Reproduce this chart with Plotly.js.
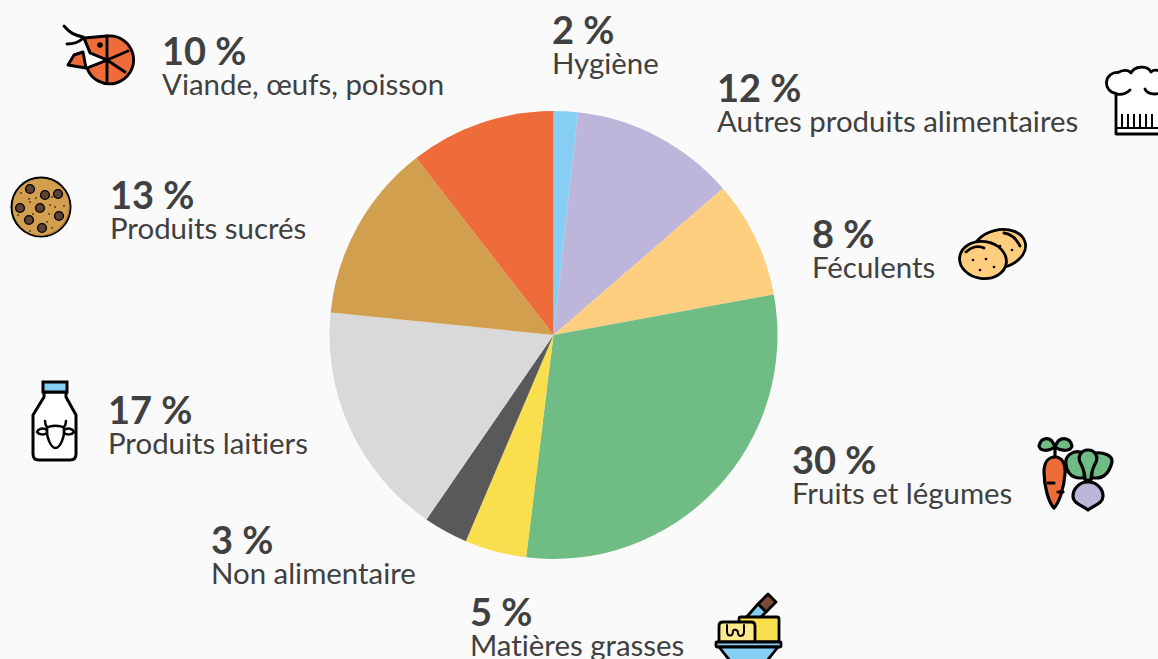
<!DOCTYPE html>
<html lang="fr">
<head>
<meta charset="utf-8">
<script src="https://cdn.plot.ly/plotly-3.0.1.min.js"></script>
<style>html,body{margin:0;padding:0;background:#fafafa;overflow:hidden}#chart{width:1158px;height:659px}
.annotation-text{font-variant-ligatures:none;font-feature-settings:"liga" 0}</style>
</head>
<body>
<div id="chart"></div>
<script>
const categories = ["Hygiène","Autres produits alimentaires","Féculents","Fruits et légumes","Matières grasses","Non alimentaire","Produits laitiers","Produits sucrés","Viande, œufs, poisson"];
const shareLabels = [2,12,8,30,5,3,17,13,10];
const shares = [1.75,11.9,8.45,29.85,4.45,3.2,17,12.9,10.5];
const sliceColors = ["#87CEF5","#BDB5DA","#FFCE7E","#6FBD85","#F9DF4E","#595959","#D9D9D9","#D19F4E","#EE6B3A"];
const labelLeft = [552,717,812,792,470,211,108,110,162];
const labelBaseline = [44,102,248,474,626,554,424,209,65];

const W = 1158, H = 659;
const INK = "#404040";

function icon(x,y,w,h,body){
  const svg = `<svg xmlns="http://www.w3.org/2000/svg" width="${w*2}" height="${h*2}" viewBox="${x} ${y} ${w} ${h}">${body}</svg>`;
  return {source:"data:image/svg+xml;charset=utf-8,"+encodeURIComponent(svg),xref:"paper",yref:"paper",
    x:x/W,y:1-y/H,sizex:w/W,sizey:h/H,xanchor:"left",yanchor:"top",sizing:"stretch",layer:"above"};
}
const S = 'stroke="#000" stroke-linecap="round" stroke-linejoin="round"';

const shrimp = icon(60,22,76,66,`
 <g ${S} stroke-width="2.9" fill="none">
 <path d="M84 38L107 36A24 24 0 1 1 87 68L107 60L90 53Z" fill="#EE6B3A"/>
 <path d="M84 38L90 53L107 60L87 68" fill="#fff"/>
 <path d="M68 65L74 55L83 52L86 68Z" fill="#EE6B3A"/>
 <path d="M64 26C70 33 74 35 83 37M67 44C73 44 78 43 82 39"/>
 <path d="M107 36V83M107 60L128 51M107 60L125 72"/>
 </g><circle cx="100" cy="45" r="2.8" fill="#000"/>`);

const chips = [[30,189],[45,195],[58,194],[20,208],[40,208],[59,216],[29,220],[42,228]];
const crumbs = [[30,202],[36,198],[29,199],[50,205],[55,207],[49,214],[33,214],[47,222],[21,193],[64,206],[52,197],[30,231],[18,215],[52,228]];
const cookie = icon(8,174,66,66,`
 <circle cx="41" cy="207" r="29.5" fill="#D19F4E" stroke="#000" stroke-width="2"/>
 <path d="M67 195A29 29 0 0 1 30 234A30 30 0 0 0 67 195Z" fill="#B17F35"/>
 ${chips.map(c=>`<circle cx="${c[0]}" cy="${c[1]}" r="4.4" fill="#5D4333" stroke="#000" stroke-width="1.4"/>`).join("")}
 ${crumbs.map(c=>`<circle cx="${c[0]}" cy="${c[1]}" r=".8" fill="#000"/>`).join("")}`);

const hat = icon(1104,64,54,74,`
 <g ${S} stroke-width="2.8" fill="#fff">
 <path d="M1116 134V93.500A10.500 10.500 0 0 1 1118 72.500C1122 70 1128 69 1131 73C1134 66 1147 65 1151 72C1154 69 1158 70 1162 72V134Z" stroke-linecap="butt"/>
 <path d="M1116 94C1122 95 1127 93 1130 90M1145 89C1147 94 1155 95 1160 93" fill="none"/>
 <path d="M1116 128H1160M1122 114V128M1128 114V128M1134 114V128M1140 114V128M1146 114V128M1152 114V128" fill="none" stroke-width="2" stroke-linecap="butt"/>
 </g>`);

const potato = icon(956,225,73,58,`
 <g ${S} stroke-width="2.8" fill="#FFCE7E">
 <ellipse cx="999" cy="249" rx="27" ry="19" transform="rotate(-14 999 249)"/>
 <ellipse cx="983" cy="260" rx="23.5" ry="18.5" transform="rotate(8 983 260)"/>
 <path d="M1004 233C1012 234 1017 240 1020 246M966 252C971 247 978 245 984 248" fill="none"/>
 </g>
 ${[[991,243],[1000,246],[1012,250],[973,260],[986,259],[980,270],[994,267]].map(c=>`<circle cx="${c[0]}" cy="${c[1]}" r="1.3" fill="#000"/>`).join("")}`);

const veg = icon(1034,432,84,82,`
 <g ${S} stroke-width="3.2">
 <path d="M1055 457C1062 457 1066 464 1065 474C1064 488 1059 503 1054 508C1049 503 1044 487 1044 472C1044 463 1048 457 1055 457Z" fill="#EE6B3A"/>
 <path d="M1048 483H1054M1058 492H1063" fill="none"/>
 <path d="M1055 447C1051 435 1041 437 1039 446C1040 451 1048 452 1055 447C1062 452 1071 451 1072 446C1070 437 1059 435 1055 447Z" fill="#6FBD85"/>
 <path d="M1055 447V456" fill="none"/>
 <path d="M1088 482C1098 482 1103 490 1103 496C1103 503 1095 505 1088 510C1081 505 1073 503 1073 496C1073 490 1078 482 1088 482Z" fill="#BDB5DA"/>
 <path d="M1080 478C1070 478 1066 470 1066 464C1064 456 1074 450 1080 452C1084 461 1085 470 1084 478ZM1096 478C1106 478 1110 470 1112 462C1113 455 1102 452 1096 453C1092 461 1091 470 1092 478Z" fill="#6FBD85"/>
 <path d="M1088 450C1080 450 1077 458 1081 464C1084 470 1085 476 1085 480H1091C1091 476 1092 470 1095 464C1099 458 1096 450 1088 450Z" fill="#6FBD85"/>
 </g>`);

const butter = icon(712,590,74,69,`
 <g ${S} stroke-width="2.8">
 <path d="M768 594L776 602L766 612L758 604Z" fill="#7A4A3A"/>
 <path d="M758 604L766 612L755 623L744 620Z" fill="#87CEF5"/>
 <rect x="739" y="617" width="40" height="25" rx="2" fill="#F9DF4E"/>
 <path d="M719 642V626Q719 622 723 622H751Q755 622 755 626V642Z" fill="#FBE98B"/>
 <path d="M727 625V631C727 637 733 637 733 631C733 629 738 629 738 633C738 637 744 637 744 632V625" fill="none" stroke-width="2"/>
 <rect x="716" y="642" width="65" height="5" rx="1" fill="#87CEF5"/>
 <path d="M719 647L731 662H766L778 647Z" fill="#87CEF5"/>
 </g>`);

const milk = icon(28,378,54,86,`
 <g ${S} stroke-width="3">
 <path d="M44 392H66V397L76 415V454Q76 460 70 460H39Q33 460 33 454V415L44 397Z" fill="#fff"/>
 <rect x="43" y="382" width="24" height="10" fill="#87CEF5" stroke-linejoin="miter"/>
 <path d="M47 428C50 425 61 425 64 428C65 437 60 448 55.500 448C51 448 46 437 47 428Z" fill="#fff" stroke-width="2.500"/>
 <path d="M47 427C45 425 45 423 45 421M64 427C66 425 66 423 66 421M47 430C43 427 38 429 37 432C39 435 44 435 47 433M64 430C68 427 73 429 74 432C72 435 67 435 64 433" fill="none" stroke-width="2.500"/>
 </g>`);

const annotations = categories.map((name,i)=>({
  text:`<span style="font-size:38px"><b>${shareLabels[i]} %</b></span><br><span style="font-size:29.4px">${name}</span>`,
  xref:"paper",yref:"paper",x:(labelLeft[i]-1)/W,y:1-(labelBaseline[i]-1)/H,
  xanchor:"left",yanchor:"middle",showarrow:false,align:"left",borderpad:0,
  font:{family:"Lato, 'Open Sans', sans-serif",size:23,color:INK}
}));

const cx = 553.5, cy = 335, r = 224;
Plotly.newPlot("chart",[{
  type:"pie",labels:categories,values:shares,sort:false,direction:"clockwise",rotation:0,
  marker:{colors:sliceColors,line:{width:0}},textinfo:"none",hoverinfo:"label+percent",showlegend:false,
  domain:{x:[(cx-r)/W,(cx+r)/W],y:[1-(cy+r)/H,1-(cy-r)/H]}
}],{
  width:W,height:H,margin:{l:0,r:0,t:0,b:0,pad:0},paper_bgcolor:"#fafafa",plot_bgcolor:"#fafafa",
  showlegend:false,annotations,images:[shrimp,cookie,hat,potato,veg,butter,milk]
},{displayModeBar:false,responsive:false});
</script>
</body>
</html>
